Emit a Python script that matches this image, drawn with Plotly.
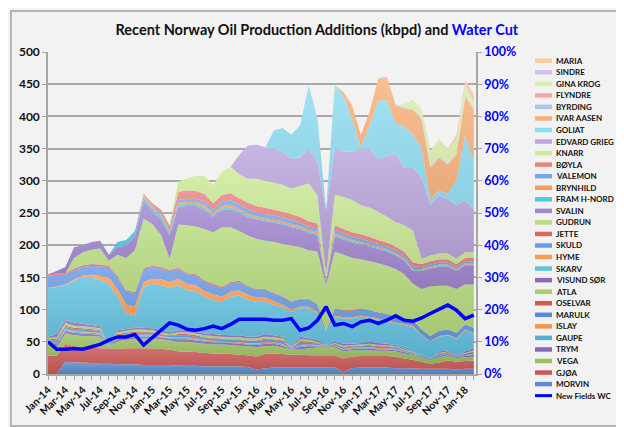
import plotly.graph_objects as go

months = ["Jan-14","Feb-14","Mar-14","Apr-14","May-14","Jun-14","Jul-14","Aug-14","Sep-14","Oct-14","Nov-14","Dec-14",
          "Jan-15","Feb-15","Mar-15","Apr-15","May-15","Jun-15","Jul-15","Aug-15","Sep-15","Oct-15","Nov-15","Dec-15",
          "Jan-16","Feb-16","Mar-16","Apr-16","May-16","Jun-16","Jul-16","Aug-16","Sep-16","Oct-16","Nov-16","Dec-16",
          "Jan-17","Feb-17","Mar-17","Apr-17","May-17","Jun-17","Jul-17","Aug-17","Sep-17","Oct-17","Nov-17","Dec-17",
          "Jan-18","Feb-18"]
tick_labels = [m if i % 2 == 0 else "" for i, m in enumerate(months)]

# kbpd per field (bottom of stack first)
morvin  = [0,0,19,18,18,17,16,16,15,15, 15,14,14,14,14,13,13,13,12,12, 12,12,12,11,7,9,10,10,10,10, 10,10,10,10,3,9,10,10,10,10, 9,9,9,8,8,8,8,7,8,8]
gjoa    = [29,28,28,25,24,24,24,24,24,25, 25,26,26,25,24,22,22,21,21,20, 20,19,18,18,20,22,22,21,20,20, 19,19,19,19,21,18,18,18,18,18, 18,15,13,11,8,10,13,12,12,13]
vega    = [21,14,16,17,17,18,18,2,12,13, 14,15,15,15,14,15,15,15,14,14, 14,14,14,14,15,12,12,10,8,8, 11,12,12,12,11,10,9,9,8,8, 8,8,8,7,5,8,8,6,6,6]
trym    = [2,4,4,4,4,3,3,0,3,3, 4,3,3,3,3,4,4,3,3,3, 3,3,3,3,3,4,3,3,1,4, 3,2,1,2,2,2,2,3,2,2, 2,2,1,1,1,2,2,1,2,3]
gaupe   = [1,2,2,2,2,2,2,0,2,2, 2,2,2,1,1,2,2,2,2,2, 1,1,2,1,2,2,2,2,0,2, 2,1,0,1,1,1,1,1,1,1, 1,1,1,0,0,1,1,0,1,1]
islay   = [0,1,1,1,1,1,1,0,1,1, 1,1,1,1,1,1,1,1,1,1, 1,1,1,1,1,1,1,1,0,1, 1,1,0,0,1,1,1,1,1,1, 1,0,0,0,0,0,0,0,0,1]
marulk  = [1,3,3,3,3,3,3,1,3,3, 3,3,3,2,2,3,3,3,3,3, 3,3,3,3,3,3,3,3,1,4, 3,2,1,2,2,2,2,2,2,2, 2,1,1,1,1,2,1,1,2,2]
oselvar = [1,2,2,2,2,2,1,0,2,2, 2,2,1,1,1,2,2,2,1,1, 1,1,1,1,1,2,1,2,0,2, 1,1,0,1,1,1,1,1,1,1, 1,1,0,0,0,1,1,0,1,1]
atla    = [1,3,4,3,3,3,3,1,3,3, 3,3,3,3,2,3,3,3,3,3, 3,3,3,3,3,3,3,3,1,3, 3,2,1,1,2,1,2,2,2,2, 1,1,1,0,0,1,1,0,1,2]
visund  = [2,5,5,5,4,3,3,0,3,3, 3,3,3,3,3,3,3,3,3,3, 3,3,3,3,3,4,3,3,1,4, 3,3,1,2,3,2,2,3,3,2, 2,2,1,1,1,2,2,1,2,3]
skarv   = [75,73,54,65,73,74,72,96,52,24, 19,63,69,70,68,70,62,62,57,53, 51,60,62,57,54,50,47,46,55,44, 46,41,20,39,39,39,41,37,36,34, 33,36,38,31,26,23,23,27,33,23]
hyme    = [1,1,1,2,2,4,6,10,12,14, 14,8,8,9,10,10,10,10,9,9, 8,8,8,8,7,7,6,4,3,3, 3,3,0,2,2,2,2,2,2,2, 2,2,2,1,1,1,1,1,1,1]
skuld   = [19,18,15,14,13,14,15,16,18,20, 20,20,18,17,17,15,15,15,14,14, 13,13,13,13,12,12,12,12,12,11, 11,11,2,10,10,10,10,10,10,10, 9,9,9,8,8,8,8,8,8,8]
jette   = [2,2,2,3,3,3,3,2,2,2, 2,2,2,2,2,2,2,2,2,2, 2,2,2,1,1,1,1,1,1,1, 1,1,0,1,1,1,1,0,0,0, 0,0,0,0,0,0,0,0,0,0]
gudrun  = [0,0,0,16,20,22,25,8,33,50, 65,76,65,50,17,67,74,74,80,80, 93,85,77,78,78,75,79,81,87,80, 75,81,71,88,86,81,76,76,76,75, 74,68,56,63,77,70,68,68,62,67]
svalin  = [0,4,10,17,11,12,12,9,12,20, 22,28,20,24,36,28,30,32,30,24, 26,28,28,28,30,30,30,30,28,28, 27,26,5,24,24,24,23,23,22,22, 21,21,20,28,28,30,30,28,30,30]
fram    = [0,0,0,0,0,0,0,0,8,8, 8,6,4,4,4,3,3,3,3,3, 3,3,3,3,2,2,2,2,2,2, 2,2,1,2,2,2,2,2,2,2, 2,2,1,1,1,1,1,1,1,1]
brynhild= [0,0,0,0,0,0,0,0,0,0, 0,3,3,3,3,3,3,3,4,3, 4,4,3,3,3,3,3,3,3,3, 3,3,1,3,2,2,2,2,2,2, 2,2,2,2,2,2,2,2,2,2]
valemon = [0,0,0,0,0,0,0,0,0,0, 0,0,2,3,3,4,5,5,6,5, 6,7,7,7,6,6,6,6,6,5, 5,5,1,5,5,5,5,4,4,4, 4,4,4,3,3,3,3,3,3,3]
boyla   = [0,0,0,0,0,0,0,0,0,0, 0,2,3,5,5,13,13,12,12,10, 11,11,10,10,10,10,9,9,9,9, 8,8,1,7,7,7,7,7,6,6, 6,6,6,5,5,5,5,5,5,5]
knarr   = [0,0,0,0,0,0,0,0,0,0, 0,0,0,0,2,16,18,24,28,28, 36,41,37,37,42,42,42,42,40,48, 59,44,8,47,50,50,45,45,44,40, 38,41,50,8,9,9,9,8,9,9]
edvard  = [0,0,0,0,0,0,0,0,0,0, 0,0,0,0,0,0,0,0,0,0, 0,0,30,52,53,52,53,51,46,44, 54,52,100,72,71,75,88,92,82,94, 106,89,97,126,78,90,84,83,81,66]
goliat  = [0,0,0,0,0,0,0,0,0,0, 0,0,0,0,0,0,0,0,0,0, 0,0,0,0,0,0,28,37,38,50, 98,67,0,98,86,50,2,35,91,87, 47,65,52,45,8,8,9,38,100,75]
ivar    = [0,0,0,0,0,0,0,0,0,0, 0,0,0,0,0,0,0,0,0,0, 0,0,0,0,0,0,0,0,0,0, 0,0,0,0,6,22,19,22,34,36, 28,27,38,45,50,50,45,40,60,80]
byrding = [0,0,0,0,0,0,0,0,0,0, 0,0,0,0,0,0,0,0,0,0, 0,0,0,0,0,0,0,0,0,0, 0,0,0,0,0,0,0,0,0,1, 1,1,1,1,1,1,1,1,1,1]
flyndre = [0,0,0,0,0,0,0,0,0,0, 0,0,0,0,0,0,0,0,0,0, 0,0,0,0,0,0,0,0,0,0, 0,0,0,0,0,0,0,0,0,0, 0,0,0,0,1,1,1,1,2,2]
gina    = [0,0,0,0,0,0,0,0,0,0, 0,0,0,0,0,0,0,0,0,0, 0,0,0,0,0,0,0,0,0,0, 0,0,0,0,0,0,0,0,0,0, 0,6,15,15,25,28,23,22,15,7]
sindre  = [0,0,0,0,0,0,0,0,0,0, 0,0,0,0,0,0,0,0,0,0, 0,0,0,0,0,0,0,0,0,0, 0,0,0,0,0,0,0,0,0,0, 0,0,0,0,0,0,0,2,3,3]
maria   = [0,0,0,0,0,0,0,0,0,0, 0,0,0,0,0,0,0,0,0,0, 0,0,0,0,0,0,0,0,0,0, 0,0,0,0,0,0,0,0,0,0, 0,0,0,0,0,0,0,5,6,12]

# New fields water cut (%)
water_cut = [10.0,7.7,7.7,7.9,7.7,8.4,9.2,10.5,11.5,11.5, 12.3,9.0,11.2,13.6,15.9,15.2,13.9,13.6,14.1,14.9,
             14.1,15.4,17.0,17.0,17.0,17.0,16.7,16.7,17.2,13.6, 14.3,16.7,20.9,15.2,15.7,14.7,16.2,16.7,15.7,16.7,
             18.1,16.7,16.4,17.4,18.8,20.1,21.4,19.8,17.2,18.3]

series = [
    ("MORVIN", morvin, "#5b8bd0"), ("GJØA", gjoa, "#cc5a57"), ("VEGA", vega, "#9cc160"),
    ("TRYM", trym, "#8a6bb3"), ("GAUPE", gaupe, "#4fb3cc"), ("ISLAY", islay, "#f7944b"),
    ("MARULK", marulk, "#5a8ad6"), ("OSELVAR", oselvar, "#d55454"), ("ATLA", atla, "#a8d060"),
    ("VISUND SØR", visund, "#8c6cc0"), ("SKARV", skarv, "#62c2e0"), ("HYME", hyme, "#f89a52"),
    ("SKULD", skuld, "#6b9be3"), ("JETTE", jette, "#e06464"), ("GUDRUN", gudrun, "#b9de80"),
    ("SVALIN", svalin, "#a488d2"), ("FRAM H-NORD", fram, "#55c6e2"), ("BRYNHILD", brynhild, "#fa9c50"),
    ("VALEMON", valemon, "#78a6ea"), ("BØYLA", boyla, "#ec8282"), ("KNARR", knarr, "#cdec98"),
    ("EDVARD GRIEG", edvard, "#bba6de"), ("GOLIAT", goliat, "#8edcf2"), ("IVAR AASEN", ivar, "#f9b07a"),
    ("BYRDING", byrding, "#a8c4f0"), ("FLYNDRE", flyndre, "#f4a8a8"), ("GINA KROG", gina, "#dcefb0"),
    ("SINDRE", sindre, "#d2c2ec"), ("MARIA", maria, "#fcc8a0"),
]


def shade(hexcol, f):
    r, g, b = int(hexcol[1:3], 16), int(hexcol[3:5], 16), int(hexcol[5:7], 16)
    if f >= 0:
        r, g, b = [int(c + (255 - c) * f) for c in (r, g, b)]
    else:
        r, g, b = [int(c * (1 + f)) for c in (r, g, b)]
    return "rgb(%d,%d,%d)" % (r, g, b)


fig = go.Figure()
for name, vals, col in series:
    fig.add_trace(go.Scatter(x=months, y=vals, name=name, stackgroup="one", mode="none",
                             fillcolor=col,
                             fillgradient=dict(type="vertical",
                                               colorscale=[[0, shade(col, -0.10)], [1, shade(col, 0.18)]]),
                             showlegend=False, hoverinfo="x+y+name"))

fig.add_trace(go.Scatter(x=months, y=[v / 100 for v in water_cut], name="New Fields WC", yaxis="y2",
                         mode="lines", line=dict(color="#0000ff", width=3.5), showlegend=False))

# plot area in pixels
L, R, T, B = 40, 468, 44, 366
W, H = 624, 427
def px(x): return (x - L) / (R - L)
def py(y): return (B - y) / (B - T)

shapes = []
annotations = []
# outer frame
shapes.append(dict(type="rect", xref="paper", yref="paper", x0=px(3), x1=px(617), y0=py(418), y1=py(3),
                   line=dict(color="#b4b4b4", width=2), fillcolor="rgba(0,0,0,0)", layer="below"))

legend_items = [(n, c) for n, _, c in reversed(series)] + [("New Fields WC", "#0000ff")]
y0, dy = 52.7, 11.55
for k, (n, c) in enumerate(legend_items):
    yy = y0 + k * dy
    wdt = 3 if n == "New Fields WC" else 4.5
    shapes.append(dict(type="line", xref="paper", yref="paper", x0=px(527), x1=px(544), y0=py(yy), y1=py(yy),
                       line=dict(color=c, width=wdt)))
    annotations.append(dict(xref="paper", yref="paper", x=px(545.5), y=py(yy), xanchor="left", yanchor="middle",
                            text="<b>%s</b>" % n, showarrow=False, font=dict(family="Lato", size=8, color="#111111")))

fig.update_layout(
    width=W, height=H,
    margin=dict(l=L, r=W - R, t=T, b=H - B),
    paper_bgcolor="#f2f2f2", plot_bgcolor="#f2f2f2",
    title=dict(text="<b>Recent Norway Oil Production Additions (kbpd) and <span style='color:#0000ff'>Water Cut</span></b>",
               x=0.495, xanchor="center", y=1 - 22 / H, yanchor="middle",
               font=dict(family="Lato", size=14.5, color="#111111")),
    showlegend=False,
    shapes=shapes, annotations=annotations,
    xaxis=dict(type="category", tickmode="array", tickvals=months, ticktext=tick_labels, tickangle=-45,
               range=[0, 49.25], showgrid=False, showline=True, linecolor="#a6a6a6", linewidth=1.5,
               ticks="outside", ticklen=4, tickcolor="#a6a6a6",
               tickfont=dict(family="Lato", size=10.5, color="#111111", weight="bold")),
    yaxis=dict(range=[0, 500], dtick=50, showgrid=True, gridcolor="#a9a9a9", gridwidth=1.5,
               showline=True, linecolor="#a6a6a6", linewidth=1.5, ticks="outside", ticklen=4, tickcolor="#a6a6a6",
               zeroline=False, tickfont=dict(family="Lato", size=12, color="#111111", weight="bold")),
    yaxis2=dict(overlaying="y", side="right", range=[0, 1], dtick=0.1, tickformat=".0%", showgrid=False,
                showline=True, linecolor="#a6a6a6", linewidth=1.5, ticks="outside", ticklen=4, tickcolor="#a6a6a6",
                zeroline=False, tickfont=dict(family="Lato", size=12.5, color="#0000ff", weight="bold")),
)

fig.write_html("out.html")
